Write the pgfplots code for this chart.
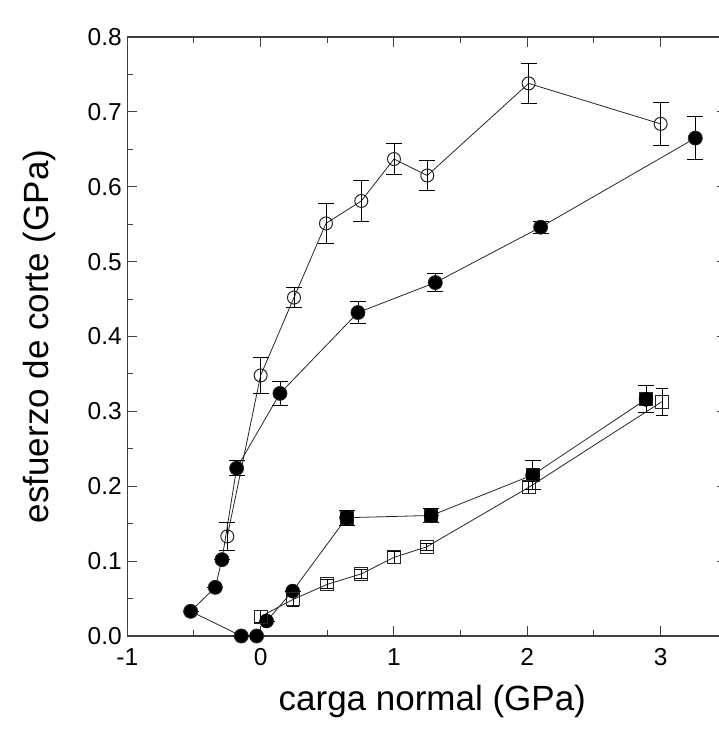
\documentclass[border=0pt]{standalone}
\usepackage{pgfplots}
\pgfplotsset{compat=1.18}
\usepackage{pgfplotstable}
\usepackage{fontspec}
\setmainfont{Liberation Sans}

\pgfplotstableread{
x y e
-0.25 0.133 0.019
0.00 0.348 0.024
0.25 0.452 0.013
0.49 0.551 0.027
0.755 0.581 0.027
1.00 0.637 0.021
1.25 0.615 0.020
2.01 0.738 0.027
3.00 0.684 0.029
}\opencirc

\pgfplotstableread{
x y e
-0.03 0.000 0
-0.145 0.000 0
-0.525 0.033 0
-0.34 0.065 0
-0.29 0.102 0
-0.18 0.224 0.010
0.145 0.324 0.016
0.73 0.432 0.015
1.31 0.472 0.012
2.10 0.546 0.008
3.26 0.665 0.029
}\filledcirc

\pgfplotstableread{
x y e
0.045 0.020 0
0.24 0.060 0
0.645 0.158 0.010
1.28 0.161 0.010
2.04 0.215 0.019
2.89 0.316 0.018
}\filledsq

\pgfplotstableread{
x y e
0.00 0.026 0.008
0.245 0.049 0.010
0.50 0.069 0.006
0.755 0.083 0.006
1.00 0.105 0.008
1.245 0.119 0.005
2.01 0.1985 0.008
3.01 0.313 0.018
}\opensq

\begin{document}
\begin{tikzpicture}
\begin{axis}[
  scale only axis,
  width=600bp, height=599bp,
  xmin=-1, xmax=3.5, ymin=0, ymax=0.8,
  xtick={-1,0,1,2,3}, xticklabels={-1,0,1,2,3},
  ytick={0,0.1,0.2,0.3,0.4,0.5,0.6,0.7,0.8},
  yticklabels={0.0,0.1,0.2,0.3,0.4,0.5,0.6,0.7,0.8},
  minor x tick num=1, minor y tick num=1,
  tick align=inside,
  major tick length=10bp, minor tick length=6bp,
  axis line style={line width=1.2bp, black!75},
  every tick/.style={black!75, line width=1bp},
  tick label style={font=\fontsize{24.5bp}{27bp}\selectfont},
  xticklabel style={yshift=-9bp},
  yticklabel style={xshift=-2bp},
  label style={font=\fontsize{35bp}{40bp}\selectfont},
  xlabel={carga normal (GPa)},
  ylabel={esfuerzo de corte (GPa)},
  xlabel style={yshift=-12bp, xshift=5bp},
  ylabel style={yshift=25bp},
  clip=false,
  error bars/error mark=|,
  error bars/error bar style={black, line width=0.9bp},
  error bars/error mark options={black, line width=0.9bp, mark size=8bp},
]
\addplot[black!85, line width=0.8bp, mark=o, mark size=6.5bp,
  mark options={line width=1bp, fill=white},
  error bars/.cd, y dir=both, y explicit]
  table[x=x, y=y, y error=e] {\opencirc};
\addplot[black!85, line width=0.8bp, mark=*, mark size=7bp,
  mark options={fill=black},
  error bars/.cd, y dir=both, y explicit]
  table[x=x, y=y, y error=e] {\filledcirc};
\addplot[black!85, line width=0.8bp, mark=square*, mark size=6.5bp,
  mark options={fill=black}, mark indices={3,4,5,6},
  error bars/.cd, y dir=both, y explicit]
  table[x=x, y=y, y error=e] {\filledsq};
\addplot[only marks, mark=*, mark size=7bp, mark options={fill=black}]
  table[x=x, y=y] {\filledsq};
\addplot[black!85, line width=0.8bp, mark=square, mark size=6.5bp,
  mark options={line width=1bp, fill=white},
  error bars/.cd, y dir=both, y explicit,
  error mark options={black, line width=0.8bp, mark size=6bp}]
  table[x=x, y=y, y error=e] {\opensq};
\end{axis}
\pgfresetboundingbox
\path (-127.3bp,-104bp) rectangle (591.7bp,636bp);
\end{tikzpicture}
\end{document}
